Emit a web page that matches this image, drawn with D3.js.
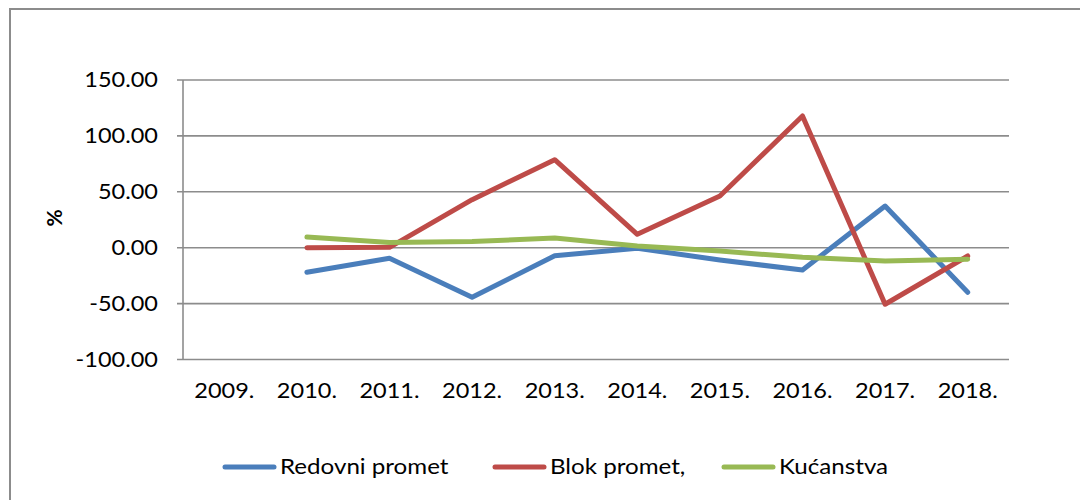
<!DOCTYPE html>
<html><head><meta charset="utf-8">
<script src="https://cdn.jsdelivr.net/npm/d3@7"></script>
<style>body{margin:0;background:#fff}svg{display:block}text{font-family:Lato,"Open Sans",sans-serif;fill:#000}</style>
</head><body><svg id="c" width="1080" height="502"></svg>
<script>
const categories = ["2009.","2010.","2011.","2012.","2013.","2014.","2015.","2016.","2017.","2018."];
const seriesNames = ["Redovni promet","Blok promet,","Kućanstva"];
const redovni = [null,-22.0,-9.5,-44.4,-7.2,-0.5,-11.0,-20.0,37.3,-39.9];
const blok = [null,0.0,0.3,43.0,78.7,12.0,46.2,117.8,-50.6,-7.4];
const kucanstva = [null,9.5,4.7,5.6,8.6,1.5,-3.0,-8.6,-11.9,-10.4];
const yTicks = [-100,-50,0,50,100,150];
const colors = ["#4A7EBB","#BE4B48","#98B954"];
const series = [redovni, blok, kucanstva];

const svg = d3.select("#c");
const grid = "#8c8c8c";
// outer frame
svg.append("path").attr("d","M10,500 L10,9 L1082,9").attr("fill","none").attr("stroke","#8c8c8c").attr("stroke-width",2);

const x = d3.scaleBand().domain(categories).range([183,1009]);
const y = d3.scaleLinear().domain([-100,150]).range([359.5,80]);

// gridlines
svg.append("g").selectAll("line").data(yTicks).join("line")
  .attr("x1",177).attr("x2",1009).attr("y1",d=>y(d)).attr("y2",d=>y(d))
  .attr("stroke",grid).attr("stroke-width",1.6);
// left axis line
svg.append("line").attr("x1",183).attr("x2",183).attr("y1",y(150)).attr("y2",y(-100)).attr("stroke",grid).attr("stroke-width",1.6);

const fs = 21, sx = 1.12;
const fmt = d => d3.format(".2f")(d).replace("\u2212","-");
// y tick labels
svg.append("g").selectAll("text").data(yTicks).join("text")
  .attr("transform",d=>`translate(158,${y(d)}) scale(${sx},1)`)
  .attr("text-anchor","end").attr("dy","0.35em").attr("font-size",fs)
  .text(fmt);
// y title
svg.append("text").attr("transform","translate(55,218) rotate(-90)")
  .attr("text-anchor","middle").attr("dy","0.35em").attr("font-size",fs).attr("font-weight","bold").text("%");
// x labels
svg.append("g").selectAll("text").data(categories).join("text")
  .attr("transform",d=>`translate(${x(d)+x.bandwidth()/2},391) scale(${sx},1)`)
  .attr("text-anchor","middle").attr("dy","0.35em").attr("font-size",fs).text(d=>d);

// lines
const line = d3.line().defined(d=>d.v!==null).x(d=>x(d.c)+x.bandwidth()/2).y(d=>y(d.v));
series.forEach((s,i)=>{
  svg.append("path").datum(s.map((v,j)=>({c:categories[j],v})))
    .attr("d",line).attr("fill","none").attr("stroke",colors[i]).attr("stroke-width",5)
    .attr("stroke-linejoin","round").attr("stroke-linecap","round");
});

// legend
const legX = [223,493,722];
seriesNames.forEach((n,i)=>{
  const g = svg.append("g").attr("transform",`translate(${legX[i]},467)`);
  g.append("line").attr("x1",2).attr("x2",51).attr("y1",0).attr("y2",0)
    .attr("stroke",colors[i]).attr("stroke-width",5).attr("stroke-linecap","round");
  g.append("text").attr("transform",`translate(57,0) scale(1.15,1)`).attr("dy","0.35em").attr("font-size",fs).text(n);
});
</script></body></html>
